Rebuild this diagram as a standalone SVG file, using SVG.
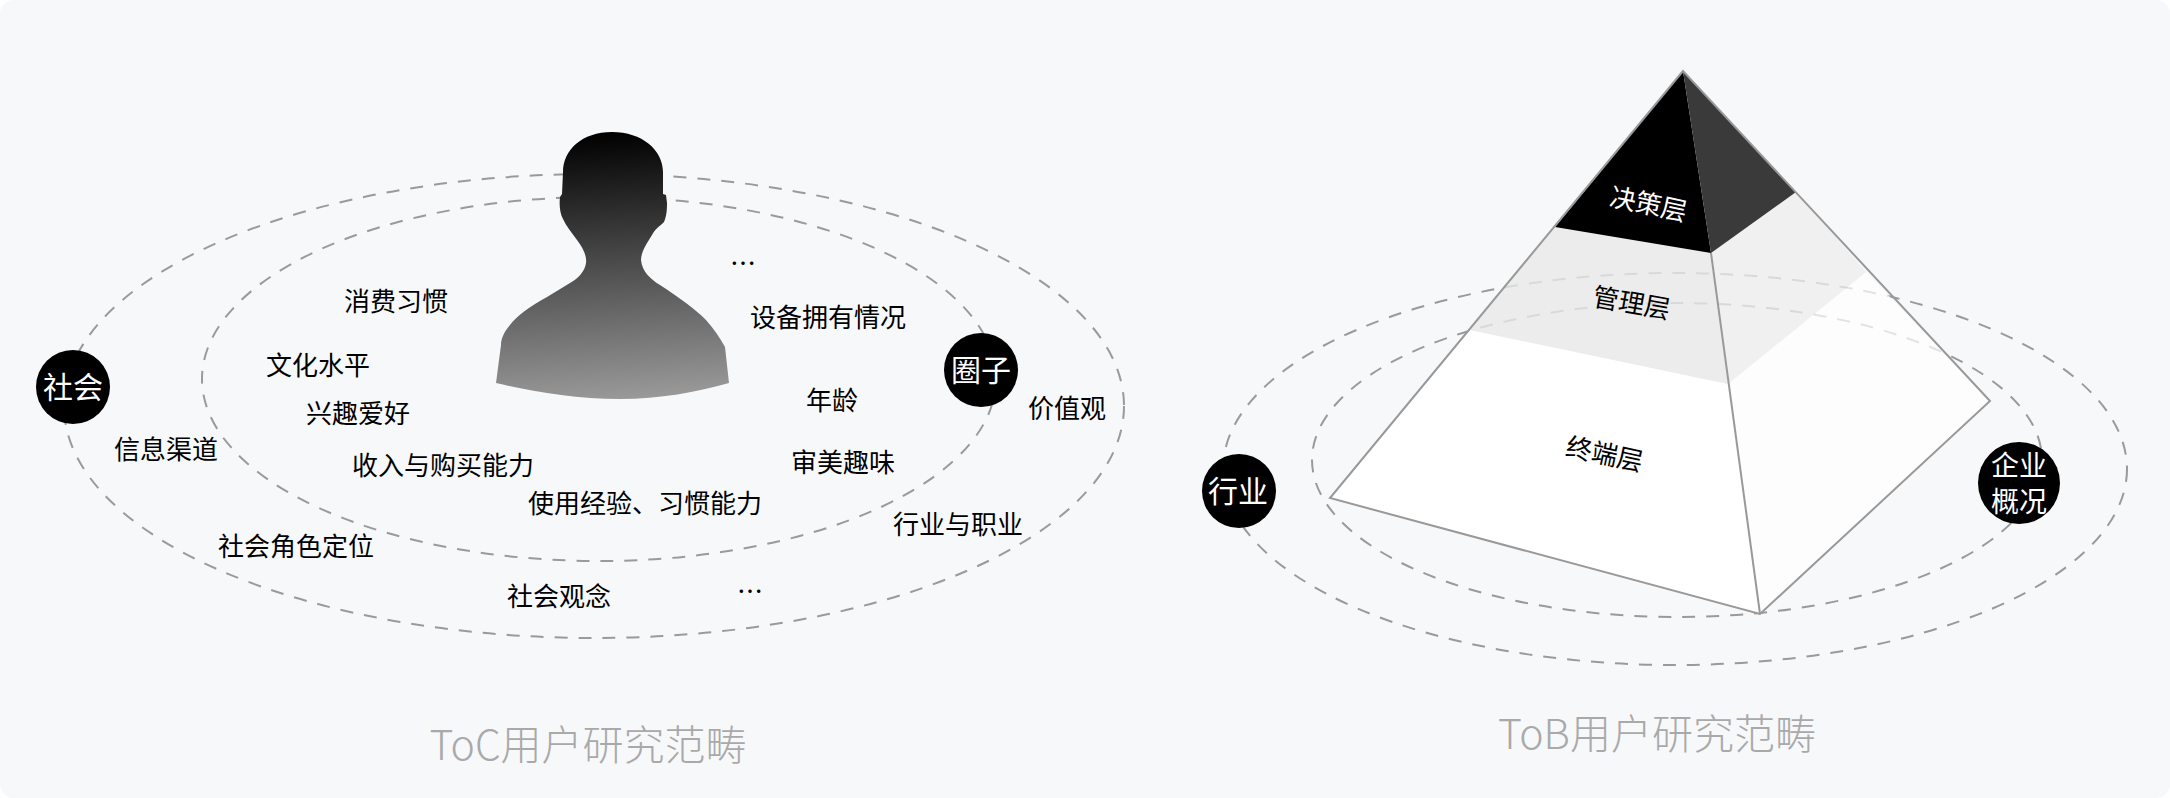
<svg xmlns="http://www.w3.org/2000/svg" width="2170" height="798" viewBox="0 0 2170 798">
<style>
text{font-family:"Noto Sans CJK SC","Liberation Sans",sans-serif;font-weight:400;text-anchor:middle;dominant-baseline:central}
.l{font-size:26px;fill:#000}
.w{font-size:30px;fill:#fff}
.p{font-size:26px}
.t{font-size:41px;fill:#a9a9a9;font-weight:300}
.d{fill:none;stroke:#9a9a9a;stroke-width:2;stroke-dasharray:13 11}
.c{fill:#000}
.e{stroke:#999;stroke-width:2;fill:none;stroke-linejoin:miter}
</style>
<defs>
<linearGradient id="g" x1="0.47" y1="0" x2="0.53" y2="1"><stop offset="0" stop-color="#000"/><stop offset="1" stop-color="#999"/></linearGradient>
</defs>
<rect width="2170" height="798" fill="#fff"/>
<rect width="2170" height="798" rx="14" fill="#f7f8fa"/>
<g id="connectors">
<ellipse class="d" cx="594" cy="406" rx="530" ry="232"/>
<ellipse class="d" cx="599" cy="379" rx="397" ry="182"/>
<ellipse class="d" cx="1675" cy="469" rx="452" ry="196"/>
<ellipse class="d" cx="1677" cy="460" rx="365" ry="157"/>
</g>
<g id="person">
<path fill="url(#g)" d="M612 132C582 132 563 150 563 172L562 194L560 197C559 205 560 214 563 219C566 226 572 233 577 240C583 248 587 256 586 263C585 271 578 279 570 283L547 297C530 306 517 316 510 325C503 333 501 340 501 345L496 383C530 391 575 399 620 399C660 399 697 392 729 383L725 347C720 338 714 329 706 320C695 309 680 298 660 285C650 279 642 271 641 260C641 252 647 243 652 235C655 229 660 226 664 222C667 215 667 208 667 203L666 195L663 194L663 172C663 150 642 132 612 132Z"/>
</g>
<g id="pyramid">
<polygon fill="#fff" fill-opacity=".97" points="1470,330 1728,384 1760,614 1330,498"/>
<polygon fill="#fff" fill-opacity=".72" points="1728,384 1866,272 1990,401 1760,614"/>
<polygon fill="#e8e8e8" fill-opacity=".8" points="1555,227 1711,253 1728,384 1470,330"/>
<polygon fill="#ededed" fill-opacity=".75" points="1711,253 1796,192 1866,272 1728,384"/>
<polygon fill="#000" points="1683,71 1711,253 1555,227"/>
<polygon fill="#3a3a3a" points="1683,71 1796,192 1711,253"/>
<path class="e" d="M1683 71L1330 498L1760 614L1990 401Z"/>
<path class="e" d="M1711 253L1760 614"/>
<text class="p" fill="#fff" transform="translate(1649 202) rotate(12)">决策层</text>
<text class="p" fill="#000" transform="translate(1632 301) rotate(10)">管理层</text>
<text class="p" fill="#000" transform="translate(1605 452) rotate(12)">终端层</text>
</g>
<g id="node-shehui"><circle class="c" cx="73" cy="387" r="37"/><text class="w" x="73" y="385">社会</text></g>
<g id="node-quanzi"><circle class="c" cx="981" cy="370" r="37"/><text class="w" x="981" y="368">圈子</text></g>
<g id="node-hangye"><circle class="c" cx="1239" cy="491" r="37"/><text class="w" x="1238" y="489">行业</text></g>
<g id="node-qiye"><circle class="c" cx="2019" cy="483" r="41"/><text class="w" style="font-size:28px"><tspan x="2019" y="464">企业</tspan><tspan x="2019" y="500">概况</tspan></text></g>
<g id="labels">
<text class="l" x="396" y="299">消费习惯</text>
<text class="l" x="318" y="363">文化水平</text>
<text class="l" x="358" y="411">兴趣爱好</text>
<text class="l" x="166" y="447">信息渠道</text>
<text class="l" x="443" y="463">收入与购买能力</text>
<text class="l" x="645" y="501">使用经验、习惯能力</text>
<text class="l" x="296" y="544">社会角色定位</text>
<text class="l" x="559" y="594">社会观念</text>
<text class="l" x="750" y="589">…</text>
<text class="l" x="743" y="261">…</text>
<text class="l" x="828" y="315">设备拥有情况</text>
<text class="l" x="832" y="398">年龄</text>
<text class="l" x="1067" y="406">价值观</text>
<text class="l" x="843" y="460">审美趣味</text>
<text class="l" x="958" y="522">行业与职业</text>
</g>
<text class="t" x="588" y="742">ToC用户研究范畴</text>
<text class="t" x="1657" y="731">ToB用户研究范畴</text>
</svg>
